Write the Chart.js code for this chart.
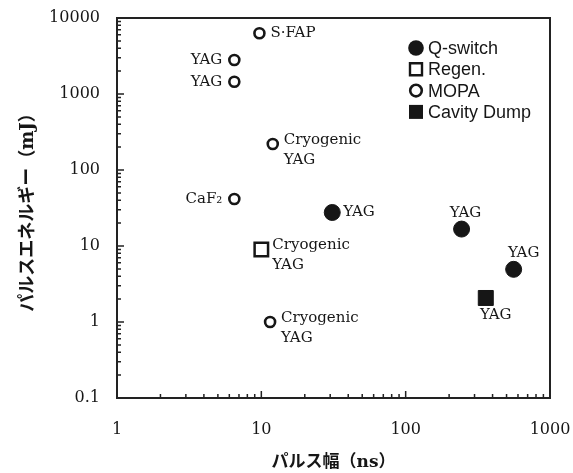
<!DOCTYPE html>
<html>
<head>
<meta charset="utf-8">
<script src="https://cdn.jsdelivr.net/npm/chart.js@4/dist/chart.umd.min.js"></script>
<style>
  html, body { margin: 0; padding: 0; background: #fff; }
  #wrap { width: 573px; height: 473px; }
</style>
</head>
<body>
<div id="wrap"><canvas id="c" width="573" height="473"></canvas></div>
<script>
// Laser types shown in the legend
const seriesNames = ['Q-switch', 'Regen.', 'MOPA', 'Cavity Dump'];

// Pulse width (ns) and pulse energy (mJ) for each laser type
const qswitchWidth  = [31, 244, 560];
const qswitchEnergy = [27.6, 16.7, 4.93];
const qswitchLabels = ['YAG', 'YAG', 'YAG'];

const regenWidth  = [10];
const regenEnergy = [9];
const regenLabels = ['Cryogenic\nYAG'];

const mopaWidth  = [9.7, 6.5, 6.5, 12, 6.5, 11.5];
const mopaEnergy = [6300, 2800, 1450, 220, 41.5, 1];
const mopaLabels = ['S·FAP', 'YAG', 'YAG', 'Cryogenic\nYAG', 'CaF₂', 'Cryogenic\nYAG'];

const dumpWidth  = [359];
const dumpEnergy = [2.07];
const dumpLabels = ['YAG'];

// Decade tick values for both log axes
const xTickValues = [1, 10, 100, 1000];
const yTickValues = [0.1, 1, 10, 100, 1000, 10000];

const toPoints = (xs, ys) => xs.map((v, i) => ({ x: v, y: ys[i] }));

const ink = '#161616';
const serif = '"DejaVu Serif", serif';
const titleFamily = '"DejaVu Serif", "Noto Sans CJK JP", serif';

// Where each point's text sits relative to its marker
const placeOffsets = {
  left:       { dx: -12, dy: 0,   align: 'right' },
  right:      { dx: 11,  dy: 0,   align: 'left' },
  above:      { dx: 4,   dy: -16, align: 'center' },
  aboveRight: { dx: 10,  dy: -16, align: 'center' },
  belowRight: { dx: 10,  dy: 17,  align: 'center' },
  stacked:    { dx: 11,  dy: -4,  align: 'left' }
};
const lineGap = 20;

// Text beside each marker (material name)
const pointLabels = {
  id: 'pointLabels',
  afterDatasetsDraw(chart) {
    const ctx = chart.ctx;
    ctx.save();
    ctx.font = '15px ' + serif;
    ctx.fillStyle = ink;
    ctx.textBaseline = 'middle';
    chart.data.datasets.forEach((ds, i) => {
      const meta = chart.getDatasetMeta(i);
      meta.data.forEach((pt, j) => {
        const p = placeOffsets[ds.labelPlace[j]];
        ctx.textAlign = p.align;
        ds.pointText[j].split('\n').forEach((line, k) => {
          ctx.fillText(line, pt.x + p.dx, pt.y + p.dy + k * lineGap);
        });
      });
    });
    ctx.restore();
  }
};

// Plot frame plus inward log ticks on the bottom and left edges
const frameTicks = {
  id: 'frameTicks',
  beforeDatasetsDraw(chart) {
    const { ctx, chartArea: a, scales: { x, y } } = chart;
    ctx.save();
    ctx.strokeStyle = '#222';
    ctx.lineWidth = 1.5;
    ctx.beginPath();
    for (let d = 0; d < xTickValues.length - 1; d++) {
      for (let m = 2; m <= 10; m++) {
        const px = x.getPixelForValue(xTickValues[d] * m);
        const len = m === 10 ? 7 : 4;
        ctx.moveTo(px, a.bottom);
        ctx.lineTo(px, a.bottom - len);
      }
    }
    for (let d = 0; d < yTickValues.length - 1; d++) {
      for (let m = 2; m <= 10; m++) {
        const py = y.getPixelForValue(yTickValues[d] * m);
        const len = m === 10 ? 7 : 4;
        ctx.moveTo(a.left, py);
        ctx.lineTo(a.left + len, py);
      }
    }
    ctx.stroke();
    ctx.lineWidth = 2;
    ctx.strokeRect(a.left, a.top, a.right - a.left, a.bottom - a.top);
    ctx.restore();
  }
};

// Legend drawn inside the upper right of the plot
const insideLegend = {
  id: 'insideLegend',
  afterDatasetsDraw(chart) {
    const { ctx, chartArea: a } = chart;
    const mx = a.right - 134;
    const tx = a.right - 122;
    const y0 = a.top + 30;
    const step = 21.3;
    ctx.save();
    ctx.font = '18px "Liberation Sans", Arial, sans-serif';
    ctx.textBaseline = 'middle';
    ctx.textAlign = 'left';
    chart.data.datasets.forEach((ds, i) => {
      const cy = y0 + i * step;
      ctx.fillStyle = ink;
      ctx.strokeStyle = ink;
      ctx.beginPath();
      if (ds.legendShape === 'dot') {
        ctx.arc(mx, cy, 7.8, 0, Math.PI * 2);
        ctx.fill();
      } else if (ds.legendShape === 'ring') {
        ctx.lineWidth = 2.6;
        ctx.arc(mx, cy, 5.8, 0, Math.PI * 2);
        ctx.stroke();
      } else if (ds.legendShape === 'box') {
        ctx.lineWidth = 2.4;
        ctx.rect(mx - 6, cy - 6, 12, 12);
        ctx.stroke();
      } else {
        ctx.rect(mx - 7, cy - 7, 14, 14);
        ctx.fill();
      }
      ctx.fillStyle = ink;
      ctx.fillText(ds.label, tx, cy + 1);
    });
    ctx.restore();
  }
};

// Keep the plot box fixed: no extra room reserved for overhanging tick labels
const noLabelOverhang = s => {
  s.paddingLeft = 0; s.paddingRight = 0; s.paddingTop = 0; s.paddingBottom = 0;
};

new Chart(document.getElementById('c'), {
  type: 'scatter',
  data: {
    datasets: [
      {
        label: seriesNames[0],
        data: toPoints(qswitchWidth, qswitchEnergy),
        pointText: qswitchLabels,
        labelPlace: ['right', 'above', 'aboveRight'],
        legendShape: 'dot',
        pointStyle: 'circle',
        pointRadius: 8, pointHoverRadius: 8,
        pointBackgroundColor: ink, pointBorderColor: ink, pointBorderWidth: 1
      },
      {
        label: seriesNames[1],
        data: toPoints(regenWidth, regenEnergy),
        pointText: regenLabels,
        labelPlace: ['stacked'],
        legendShape: 'box',
        pointStyle: 'rect',
        pointRadius: 9.5, pointHoverRadius: 9.5,
        pointBackgroundColor: '#fff', pointBorderColor: ink, pointBorderWidth: 2.5
      },
      {
        label: seriesNames[2],
        data: toPoints(mopaWidth, mopaEnergy),
        pointText: mopaLabels,
        labelPlace: ['right', 'left', 'left', 'stacked', 'left', 'stacked'],
        legendShape: 'ring',
        pointStyle: 'circle',
        pointRadius: 5, pointHoverRadius: 5,
        pointBackgroundColor: '#fff', pointBorderColor: ink, pointBorderWidth: 2.6
      },
      {
        label: seriesNames[3],
        data: toPoints(dumpWidth, dumpEnergy),
        pointText: dumpLabels,
        labelPlace: ['belowRight'],
        legendShape: 'square',
        pointStyle: 'rect',
        pointRadius: 10.6, pointHoverRadius: 10.6,
        pointBackgroundColor: ink, pointBorderColor: ink, pointBorderWidth: 1
      }
    ]
  },
  options: {
    responsive: false,
    devicePixelRatio: 1,
    animation: false,
    events: [],
    layout: { padding: { top: 18, right: 23, left: 0, bottom: 0 } },
    plugins: {
      legend: { display: false },
      tooltip: { enabled: false }
    },
    scales: {
      x: {
        type: 'logarithmic',
        position: 'bottom',
        min: 1, max: 1000,
        afterBuildTicks: s => { s.ticks = xTickValues.map(v => ({ value: v })); },
        afterFit: s => { s.height = 75; noLabelOverhang(s); },
        grid: { display: false, drawTicks: false },
        border: { display: false },
        ticks: {
          padding: 22, color: ink, autoSkip: false, maxRotation: 0,
          font: { family: serif, size: 16 },
          callback: v => String(v)
        },
        title: {
          display: true, text: 'パルス幅（ns）', color: ink,
          font: { family: titleFamily, size: 17, weight: 'bold' },
          padding: { top: 0, bottom: 0 }
        }
      },
      y: {
        type: 'logarithmic',
        position: 'left',
        min: 0.1, max: 10000,
        afterBuildTicks: s => { s.ticks = yTickValues.map(v => ({ value: v })); },
        afterFit: s => { s.width = 117; noLabelOverhang(s); },
        grid: { display: false, drawTicks: false },
        border: { display: false },
        ticks: {
          padding: 17, color: ink, autoSkip: false,
          font: { family: serif, size: 16 },
          callback: v => String(v)
        },
        title: {
          display: true, text: 'パルスエネルギー（mJ）', color: ink,
          font: { family: titleFamily, size: 18, weight: 'bold' },
          padding: { top: 18, bottom: 0 }
        }
      }
    }
  },
  plugins: [frameTicks, pointLabels, insideLegend]
});
</script>
</body>
</html>
